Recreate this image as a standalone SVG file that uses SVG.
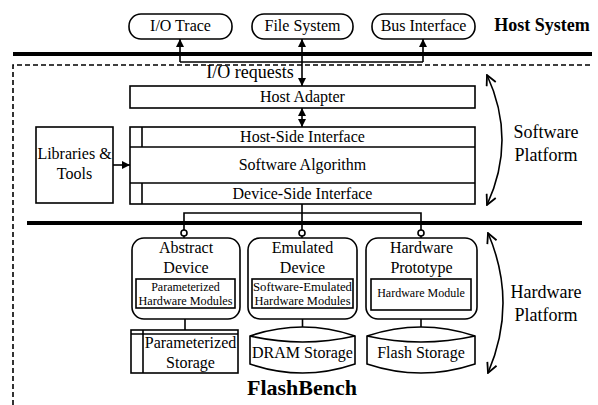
<svg xmlns="http://www.w3.org/2000/svg" width="598" height="405" viewBox="0 0 598 405">
<style>
text{font-family:"Liberation Serif","Times New Roman",serif;fill:#000;text-anchor:middle}
.b{fill:#fff;stroke:#000;stroke-width:1.6}
.l{fill:none;stroke:#000;stroke-width:1.6}
.thick{fill:none;stroke:#000;stroke-width:4}
.dash{fill:none;stroke:#000;stroke-width:1.6;stroke-dasharray:5,3}
.f16{font-size:16px}
.f18{font-size:18px}
.f12{font-size:12px}
.bold{font-weight:bold}
</style>
<defs>
<marker id="ah" viewBox="0 0 8 8" refX="8" refY="4" markerWidth="8" markerHeight="8" markerUnits="userSpaceOnUse" orient="auto-start-reverse">
<path d="M0,0 L8,4 L0,8 z" fill="#000"/>
</marker>
<marker id="ov" viewBox="0 0 12 12" refX="11" refY="6" markerWidth="12" markerHeight="12" markerUnits="userSpaceOnUse" orient="auto-start-reverse">
<path d="M1,1 L11,6 L1,11" fill="none" stroke="#000" stroke-width="1.8"/>
</marker>
</defs>
<g id="frame">
<line class="thick" x1="13" y1="54" x2="592" y2="54"/>
<line class="thick" x1="27" y1="223" x2="582" y2="223"/>
<path class="dash" d="M13,405 L13,65 L592,65"/>
</g>
<g id="io-trace"><rect class="b" x="129" y="14" width="103" height="25" rx="12"/><text class="f16" x="180.5" y="31">I/O Trace</text></g>
<g id="file-system"><rect class="b" x="252" y="14" width="101" height="25" rx="12"/><text class="f16" x="302.5" y="31">File System</text></g>
<g id="bus-interface"><rect class="b" x="372" y="14" width="103" height="25" rx="12"/><text class="f16" x="423.5" y="31">Bus Interface</text></g>
<g id="host-system"><text class="f18 bold" x="542" y="31">Host System</text></g>
<g id="io-requests"><text class="f18" x="250" y="78">I/O requests</text></g>
<g id="host-adapter"><rect class="b" x="130" y="86" width="345" height="22"/><text class="f16" x="302.5" y="102">Host Adapter</text></g>
<g id="software-stack">
<rect class="b" x="130" y="127" width="345" height="77"/>
<line class="l" x1="130" y1="147" x2="475" y2="147"/>
<line class="l" x1="130" y1="183" x2="475" y2="183"/>
<line class="l" x1="142" y1="127" x2="142" y2="147"/>
<line class="l" x1="142" y1="183" x2="142" y2="204"/>
<text class="f16" x="302.5" y="142">Host-Side Interface</text>
<text class="f16" x="302.5" y="170">Software Algorithm</text>
<text class="f16" x="302.5" y="199">Device-Side Interface</text>
</g>
<g id="libraries-tools"><rect class="b" x="36" y="127" width="77" height="76"/><text class="f16" x="74.5" y="159">Libraries &amp;</text><text class="f16" x="74.5" y="179">Tools</text></g>
<g id="software-platform"><text class="f18" x="546" y="138">Software</text><text class="f18" x="546" y="161">Platform</text></g>
<g id="hardware-platform"><text class="f18" x="546" y="298">Hardware</text><text class="f18" x="546" y="321">Platform</text></g>
<g id="abstract-device">
<rect class="b" x="132" y="238" width="108" height="81" rx="12"/>
<text class="f16" x="186" y="253">Abstract</text><text class="f16" x="186" y="273">Device</text>
<rect class="b" x="136" y="279" width="99" height="29"/>
<text class="f12" x="185.5" y="291">Parameterized</text><text class="f12" x="185.5" y="305" textLength="94" lengthAdjust="spacingAndGlyphs">Hardware Modules</text>
</g>
<g id="emulated-device">
<rect class="b" x="248" y="238" width="109" height="81" rx="12"/>
<text class="f16" x="302.5" y="253">Emulated</text><text class="f16" x="302.5" y="273">Device</text>
<rect class="b" x="252" y="279" width="101" height="29"/>
<text class="f12" x="302.5" y="291" textLength="99" lengthAdjust="spacingAndGlyphs">Software-Emulated</text><text class="f12" x="302.5" y="305" textLength="96" lengthAdjust="spacingAndGlyphs">Hardware Modules</text>
</g>
<g id="hardware-prototype">
<rect class="b" x="366" y="238" width="111" height="81" rx="12"/>
<text class="f16" x="421.5" y="253">Hardware</text><text class="f16" x="421.5" y="273">Prototype</text>
<rect class="b" x="371" y="279" width="100" height="31"/>
<text class="f12" x="421" y="297">Hardware Module</text>
</g>
<g id="parameterized-storage">
<rect class="b" x="131" y="330" width="107" height="43"/>
<line class="l" x1="131" y1="334" x2="238" y2="334"/>
<line class="l" x1="143" y1="330" x2="143" y2="373"/>
<text class="f16" x="190.5" y="348">Parameterized</text><text class="f16" x="190.5" y="368">Storage</text>
</g>
<g id="dram-storage">
<path class="b" d="M250,336 Q302.5,318 355,336 L355,364 Q302.5,382 250,364 Z"/>
<path class="l" d="M250,336 Q302.5,348 355,336"/>
<text class="f16" x="302.5" y="358">DRAM Storage</text>
</g>
<g id="flash-storage">
<path class="b" d="M367,336 Q421,318 475,336 L475,364 Q421,382 367,364 Z"/>
<path class="l" d="M367,336 Q421,348 475,336"/>
<text class="f16" x="421" y="358">Flash Storage</text>
</g>
<g id="flashbench"><text class="bold" style="font-size:22px" x="302" y="395">FlashBench</text></g>
<g id="connectors">
<path class="l" d="M180,62 L423,62"/>
<line class="l" x1="180" y1="62" x2="180" y2="39" marker-end="url(#ah)"/>
<line class="l" x1="423" y1="62" x2="423" y2="39" marker-end="url(#ah)"/>
<line class="l" x1="302" y1="39" x2="302" y2="86" marker-start="url(#ah)" marker-end="url(#ah)"/>
<line class="l" x1="302" y1="108" x2="302" y2="127" marker-start="url(#ah)" marker-end="url(#ah)"/>
<line class="l" x1="113" y1="165" x2="130" y2="165" marker-end="url(#ah)"/>
<path class="l" d="M302,204 L302,230 M184,230 L184,213 L421,213 L421,230"/>
<circle class="b" cx="184" cy="233" r="3"/>
<circle class="b" cx="302" cy="233" r="3"/>
<circle class="b" cx="421" cy="233" r="3"/>
<path class="l" d="M184,236 L184,238 M302,236 L302,238 M421,236 L421,238"/>
<line class="l" x1="185" y1="319" x2="185" y2="330"/>
<line class="l" x1="302.5" y1="319" x2="302.5" y2="327"/>
<line class="l" x1="421" y1="319" x2="421" y2="327"/>
<path class="l" d="M487,75 Q517,140 487,205" stroke-width="1.8" marker-start="url(#ov)" marker-end="url(#ov)"/>
<path class="l" d="M488,233 Q518,303 488,373" stroke-width="1.8" marker-start="url(#ov)" marker-end="url(#ov)"/>
</g>
</svg>
